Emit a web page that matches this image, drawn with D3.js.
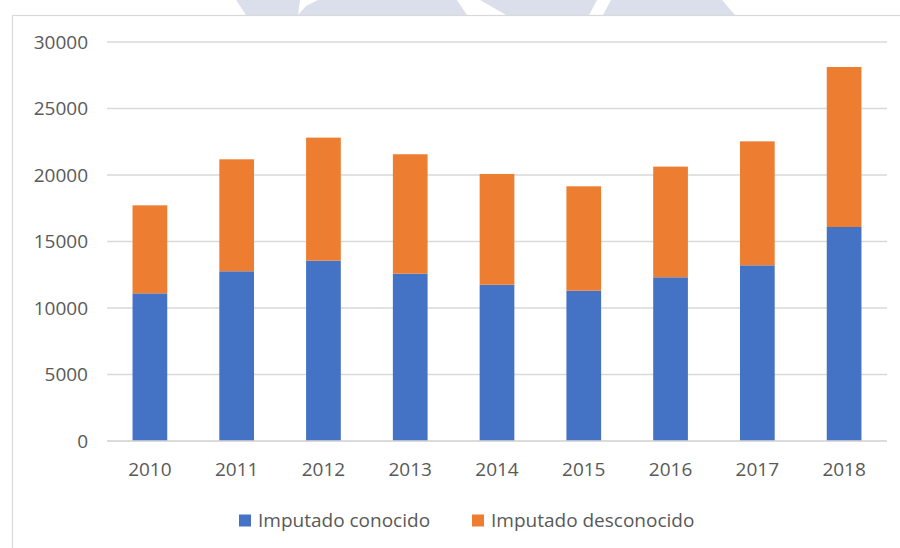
<!DOCTYPE html>
<html>
<head>
<meta charset="utf-8">
<script src="https://cdn.jsdelivr.net/npm/d3@7"></script>
<style>
  html, body { margin: 0; padding: 0; background: #fff; }
  svg { display: block; font-family: "Open Sans", "Noto Sans", sans-serif; }
</style>
</head>
<body>
<svg id="chart" width="900" height="548"></svg>
<script>
// --- Data ------------------------------------------------------------
const years = ['2010', '2011', '2012', '2013', '2014', '2015', '2016', '2017', '2018'];
const conocido = [11100, 12760, 13560, 12580, 11750, 11300, 12310, 13210, 16090];
const desconocido = [6620, 8420, 9250, 8980, 8330, 7850, 8320, 9320, 12030];
const seriesNames = ['Imputado conocido', 'Imputado desconocido'];
const yTicks = [0, 5000, 10000, 15000, 20000, 25000, 30000];

const colors = ['#4472c4', '#ed7d31'];
const textColor = '#595959';
const gridColor = '#d9d9d9';

const svg = d3.select('#chart');

// faint watermark shapes peeking above the chart frame
const watermark = [
  [[236, 0], [300, 0], [298, 15], [246, 15]],
  [[318, 0], [457, 0], [467, 15], [298, 15], [306, 6]],
  [[480, 0], [597, 0], [589, 15], [506, 15]],
  [[611, 0], [722, 0], [735, 15], [603, 15]],
];
svg.append('g').selectAll('path')
  .data(watermark)
  .join('path')
  .attr('d', d => 'M' + d.join('L') + 'Z')
  .attr('fill', '#dadfeb');

// chart frame
svg.append('rect')
  .attr('x', 12.5).attr('y', 15.5)
  .attr('width', 900).attr('height', 560)
  .attr('fill', '#fff')
  .attr('stroke', gridColor)
  .attr('stroke-width', 1.2);

// --- Scales ----------------------------------------------------------
const x = d3.scaleBand().domain(years).range([106.5, 887.5]).paddingInner(0.6).paddingOuter(0.3);
const y = d3.scaleLinear().domain([0, 30000]).range([441, 42]);

// gridlines
svg.append('g').selectAll('line')
  .data(yTicks)
  .join('line')
  .attr('x1', 107).attr('x2', 887)
  .attr('y1', d => y(d)).attr('y2', d => y(d))
  .attr('stroke', gridColor)
  .attr('stroke-width', 1.6);

// y labels
svg.append('g').selectAll('text')
  .data(yTicks)
  .join('text')
  .attr('x', 88)
  .attr('y', d => y(d))
  .attr('dy', '0.35em')
  .attr('text-anchor', 'end')
  .attr('fill', textColor)
  .style('font-size', '19px')
  .text(d => d);

// --- Stacked bars ----------------------------------------------------
const rows = years.map((yr, i) => ({ year: yr, a: conocido[i], b: desconocido[i] }));
const stack = d3.stack().keys(['a', 'b'])(rows);

svg.append('g').selectAll('g')
  .data(stack)
  .join('g')
  .attr('fill', (d, i) => colors[i])
  .selectAll('rect')
  .data(d => d)
  .join('rect')
  .attr('x', d => x(d.data.year))
  .attr('width', x.bandwidth())
  .attr('y', d => y(d[1]))
  .attr('height', d => y(d[0]) - y(d[1]));

// baseline on top of bars
svg.append('line')
  .attr('x1', 107).attr('x2', 887)
  .attr('y1', y(0)).attr('y2', y(0))
  .attr('stroke', gridColor)
  .attr('stroke-width', 1.6);

// x labels
svg.append('g').selectAll('text')
  .data(years)
  .join('text')
  .attr('x', d => x(d) + x.bandwidth() / 2)
  .attr('y', 476)
  .attr('text-anchor', 'middle')
  .attr('fill', textColor)
  .style('font-size', '19px')
  .text(d => d);

// --- Legend ----------------------------------------------------------
const legendPos = [239, 472];
const legend = svg.append('g').selectAll('g')
  .data(seriesNames)
  .join('g')
  .attr('transform', (d, i) => `translate(${legendPos[i]}, 520)`);

legend.append('rect')
  .attr('x', 0).attr('y', -5.5)
  .attr('width', 12).attr('height', 12)
  .attr('fill', (d, i) => colors[i]);

legend.append('text')
  .attr('x', 19)
  .attr('y', 0)
  .attr('dy', '0.35em')
  .attr('fill', textColor)
  .style('font-size', '19px')
  .text(d => d);
</script>
</body>
</html>
